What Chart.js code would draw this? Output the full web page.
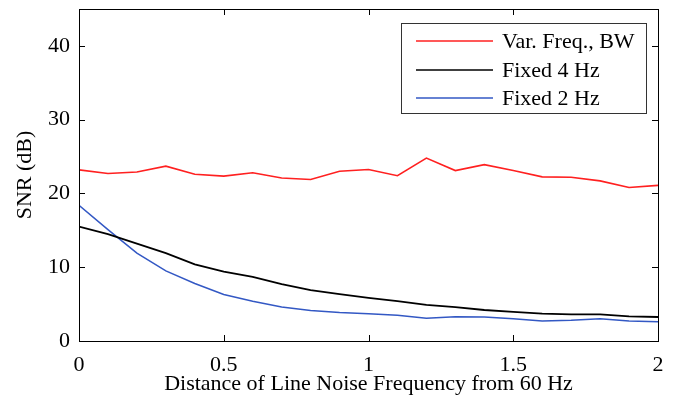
<!DOCTYPE html>
<html>
<head>
<meta charset="utf-8">
<script src="https://cdn.jsdelivr.net/npm/chart.js@4"></script>
<style>
  html, body { margin: 0; padding: 0; background: #fff; }
  #wrap { width: 682px; height: 402px; }
</style>
</head>
<body>
<div id="wrap"><canvas id="myChart" width="682" height="402"></canvas></div>
<script>
// distance from 60 Hz (Hz)
var dist = [0, 0.1, 0.2, 0.3, 0.4, 0.5, 0.6, 0.7, 0.8, 0.9, 1.0,
            1.1, 1.2, 1.3, 1.4, 1.5, 1.6, 1.7, 1.8, 1.9, 2.0];
var varFreq = [23.2, 22.7, 22.9, 23.7, 22.6, 22.35, 22.8, 22.1, 21.9, 23.0, 23.25,
               22.4, 24.8, 23.1, 23.9, 23.1, 22.25, 22.2, 21.7, 20.8, 21.1];
var fixed4 = [15.5, 14.5, 13.2, 11.9, 10.4, 9.4, 8.7, 7.7, 6.9, 6.35, 5.85,
              5.4, 4.9, 4.6, 4.2, 3.95, 3.7, 3.6, 3.6, 3.35, 3.25];
var fixed2 = [18.4, 15.1, 11.9, 9.5, 7.8, 6.3, 5.4, 4.6, 4.15, 3.85, 3.7,
              3.5, 3.1, 3.3, 3.25, 3.0, 2.7, 2.8, 3.0, 2.7, 2.6];
var xTicks = [0, 0.5, 1, 1.5, 2];
var yTicks = [0, 10, 20, 30, 40];

var font = "'Liberation Serif', 'Times New Roman', serif";

function pts(ys) {
  return dist.map(function (d, i) { return { x: d, y: ys[i] }; });
}

// frame, inward ticks on all four sides, and legend box in the top right
var framePlugin = {
  id: "frame",
  afterDraw: function (chart) {
    var ctx = chart.ctx;
    var a = chart.chartArea;
    var xs = chart.scales.x, ys = chart.scales.y;
    var tl = 6;
    ctx.save();
    ctx.strokeStyle = "#000";
    ctx.lineWidth = 1;
    ctx.strokeRect(a.left + 0.5, a.top + 0.5, a.right - a.left, a.bottom - a.top);
    ctx.beginPath();
    xTicks.forEach(function (v) {
      var px = Math.round(xs.getPixelForValue(v)) + 0.5;
      ctx.moveTo(px, a.bottom); ctx.lineTo(px, a.bottom - tl);
      ctx.moveTo(px, a.top); ctx.lineTo(px, a.top + tl);
    });
    yTicks.forEach(function (v) {
      var py = Math.round(ys.getPixelForValue(v)) + 0.5;
      ctx.moveTo(a.left, py); ctx.lineTo(a.left + tl, py);
      ctx.moveTo(a.right, py); ctx.lineTo(a.right - tl, py);
    });
    ctx.stroke();

    // legend
    var bx = 401, by = 23, bw = 245, bh = 90;
    ctx.fillStyle = "#fff";
    ctx.fillRect(bx, by, bw, bh);
    ctx.strokeStyle = "#333";
    ctx.strokeRect(bx + 0.5, by + 0.5, bw, bh);
    var rows = [41, 70, 98];
    ctx.font = "22px " + font;
    ctx.textBaseline = "middle";
    chart.data.datasets.forEach(function (ds, i) {
      ctx.strokeStyle = ds.borderColor;
      ctx.lineWidth = 1.5;
      ctx.beginPath();
      ctx.moveTo(416, rows[i]); ctx.lineTo(493, rows[i]);
      ctx.stroke();
      ctx.fillStyle = "#000";
      ctx.fillText(ds.label, 502, rows[i] + 1);
    });
    ctx.restore();
  }
};

var ctx = document.getElementById("myChart").getContext("2d");
var chart = new Chart(ctx, {
  type: "line",
  data: {
    datasets: [
      { label: "Var. Freq., BW", data: pts(varFreq), borderColor: "#ff2020", borderWidth: 1.6 },
      { label: "Fixed 4 Hz", data: pts(fixed4), borderColor: "#000000", borderWidth: 1.8 },
      { label: "Fixed 2 Hz", data: pts(fixed2), borderColor: "#3358c4", borderWidth: 1.5 }
    ]
  },
  options: {
    responsive: false,
    animation: false,
    layout: { padding: { left: 0, right: 24, top: 9, bottom: 0 } },
    elements: { point: { radius: 0 }, line: { tension: 0 } },
    plugins: { legend: { display: false }, tooltip: { enabled: false } },
    scales: {
      x: {
        type: "linear", min: 0, max: 2,
        grid: { display: false }, border: { display: false },
        afterBuildTicks: function (s) { s.ticks = xTicks.map(function (v) { return { value: v }; }); },
        ticks: { color: "#000", font: { family: font, size: 22 }, padding: 3, maxRotation: 0,
                 callback: function (v) { return String(v); } },
        title: { display: true, text: "Distance of Line Noise Frequency from 60 Hz", color: "#000",
                 font: { family: font, size: 22 }, padding: { top: 0, bottom: 5 } },
        afterFit: function (s) { s.height = 61; s.paddingLeft = 0; s.paddingRight = 0; }
      },
      y: {
        min: 0, max: 45,
        grid: { display: false }, border: { display: false },
        afterBuildTicks: function (s) { s.ticks = yTicks.map(function (v) { return { value: v }; }); },
        ticks: { color: "#000", font: { family: font, size: 22 }, padding: 1 },
        title: { display: true, text: "SNR (dB)", color: "#000",
                 font: { family: font, size: 22 }, padding: { top: 12, bottom: 0 } },
        afterFit: function (s) { s.width = 79; s.paddingTop = 0; s.paddingBottom = 0; }
      }
    }
  },
  plugins: [framePlugin]
});
</script>
</body>
</html>
